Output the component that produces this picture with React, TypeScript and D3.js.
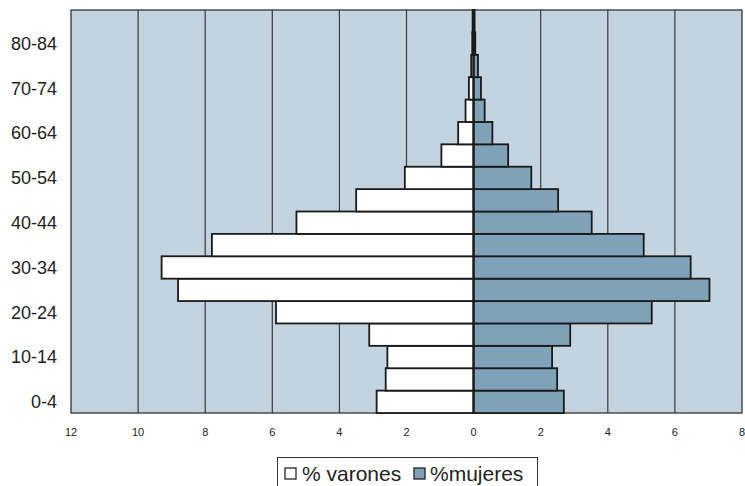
import React from "react";
import * as d3 from "d3";

const ageGroups = ["0-4","5-9","10-14","15-19","20-24","25-29","30-34","35-39","40-44","45-49","50-54","55-59","60-64","65-69","70-74","75-79","80-84","85+"];
const varones = [2.89,2.62,2.57,3.11,5.89,8.81,9.3,7.8,5.28,3.5,2.05,0.96,0.46,0.24,0.14,0.07,0.04,0.03];
const mujeres = [2.69,2.49,2.34,2.88,5.31,7.03,6.47,5.07,3.52,2.52,1.72,1.03,0.56,0.33,0.22,0.13,0.05,0.03];
const xTicks = [-12,-10,-8,-6,-4,-2,0,2,4,6,8];
const yLabels = ["0-4","10-14","20-24","30-34","40-44","50-54","60-64","70-74","80-84"];

const W = 745, H = 486;
const L = 71, R = 742, T = 10, B = 413;

export default function App() {
  const x = d3.scaleLinear().domain([-12, 8]).range([L, R]);
  const y = d3.scaleBand<string>().domain([...ageGroups].reverse()).range([T, B]).padding(0);
  const font = "Liberation Sans, Arial, sans-serif";
  return (
    <svg width={W} height={H} style={{ position: "absolute", left: 0, top: 0 }} fontFamily={font}>
      <rect x={L} y={T} width={R - L} height={B - T} fill="#c3d3e0" />
      {xTicks.filter(t => t !== -12 && t !== 8 && t !== 0).map(t => (
        <line key={t} x1={x(t)} x2={x(t)} y1={T} y2={B} stroke="#3a3a3a" strokeWidth={1.2} />
      ))}
      <rect x={L} y={T} width={R - L} height={B - T} fill="none" stroke="#333" strokeWidth={1.3} />
      {ageGroups.map((g, i) => (
        <g key={g}>
          <rect x={x(-varones[i])} y={y(g)!} width={x(0) - x(-varones[i])} height={y.bandwidth()} fill="#ffffff" stroke="#1a1a1a" strokeWidth={1.8} />
          <rect x={x(0)} y={y(g)!} width={x(mujeres[i]) - x(0)} height={y.bandwidth()} fill="#7fa2b9" stroke="#1a1a1a" strokeWidth={1.8} />
        </g>
      ))}
      <line x1={x(0)} x2={x(0)} y1={T} y2={B} stroke="#1a1a1a" strokeWidth={2} />
      {yLabels.map(g => (
        <text key={g} x={57} y={y(g)! + y.bandwidth() / 2} dy="0.35em" textAnchor="end" fontSize={18} fill="#222">{g}</text>
      ))}
      {xTicks.map(t => (
        <text key={t} x={x(t)} y={436} textAnchor="middle" fontSize={11} fill="#222">{Math.abs(t)}</text>
      ))}
      <g>
        <rect x={277.5} y={457.5} width={260} height={30} fill="#fff" stroke="#333" strokeWidth={1} />
        <rect x={285} y={468} width={11} height={11} fill="#fff" stroke="#222" strokeWidth={1.3} />
        <text x={302} y={481} fontSize={21} fill="#222">% varones</text>
        <rect x={414} y={468} width={11} height={11} fill="#7fa2b9" stroke="#222" strokeWidth={1.3} />
        <text x={430} y={481} fontSize={21} fill="#222">%mujeres</text>
      </g>
    </svg>
  );
}
